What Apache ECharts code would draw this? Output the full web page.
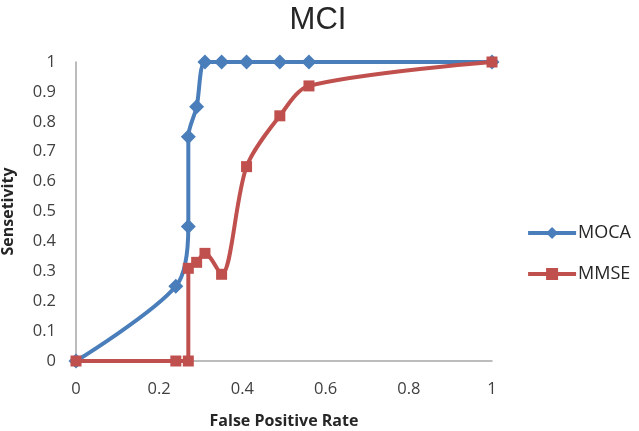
<!DOCTYPE html>
<html><head><meta charset="utf-8">
<script src="https://cdn.jsdelivr.net/npm/echarts@6/dist/echarts.min.js"></script>
<style>html,body{margin:0;padding:0;background:#fff}#c{width:639px;height:431px}</style>
</head><body><div id="c"></div>
<script>
var mocaX = [0, 0.24, 0.27, 0.27, 0.29, 0.31, 0.35, 0.41, 0.49, 0.56, 1];
var mocaY = [0, 0.25, 0.45, 0.75, 0.85, 1, 1, 1, 1, 1, 1];
var mmseX = [0, 0.24, 0.27, 0.27, 0.29, 0.31, 0.35, 0.41, 0.49, 0.56, 1];
var mmseY = [0, 0, 0, 0.31, 0.33, 0.36, 0.29, 0.65, 0.82, 0.92, 1];
var seriesNames = ['MOCA', 'MMSE'];
function pairs(xs, ys){ return xs.map(function(x,i){ return [x, ys[i]]; }); }
var chart = echarts.init(document.getElementById('c'));
var lab = {fontFamily:'Open Sans', fontSize:16.5, color:'#404040'};
chart.setOption({
  animation:false,
  title:{text:'MCI', left:313, textAlign:'center', top:0, textStyle:{fontFamily:'Liberation Sans', fontSize:31, fontWeight:'normal', color:'#262626'}},
  legend:{orient:'vertical', right:8, top:224, padding:0, itemGap:23, itemWidth:48, itemHeight:15,
    lineStyle:{width:4},
    textStyle:{fontFamily:'Open Sans', fontSize:18, color:'#262626', padding:[0,0,0,-3]},
    data:['MOCA','MMSE']},
  grid:{left:76, right:147, top:62, bottom:70, containLabel:false, outerBoundsMode:'none'},
  xAxis:{type:'value', min:0, max:1, interval:0.2,
    axisLine:{lineStyle:{color:'#a6a6a6', width:1.5}}, axisTick:{show:false}, splitLine:{show:false},
    axisLabel:Object.assign({margin:20}, lab),
    name:'False Positive Rate', nameLocation:'middle', nameGap:52,
    nameTextStyle:{fontFamily:'Open Sans', fontSize:16, fontWeight:'bold', color:'#262626'}},
  yAxis:{type:'value', min:0, max:1, interval:0.1,
    axisLine:{show:true, lineStyle:{color:'#a6a6a6', width:1.5}}, axisTick:{show:false}, splitLine:{show:false},
    axisLabel:Object.assign({margin:20}, lab),
    name:'Sensetivity', nameLocation:'middle', nameGap:60, nameRotate:90,
    nameTextStyle:{fontFamily:'Open Sans', fontSize:16, fontWeight:'bold', color:'#262626'}},
  series:[
    {name:seriesNames[0], type:'line', smooth:0.3, data:pairs(mocaX, mocaY), symbol:'diamond', symbolSize:15,
      lineStyle:{color:'#4a7ebb', width:4}, itemStyle:{color:'#4a7ebb'}, z:3},
    {name:seriesNames[1], type:'line', smooth:0.3, data:pairs(mmseX, mmseY), symbol:'rect', symbolSize:11,
      lineStyle:{color:'#c0504d', width:4}, itemStyle:{color:'#c0504d'}, z:4}
  ]
});
</script></body></html>
